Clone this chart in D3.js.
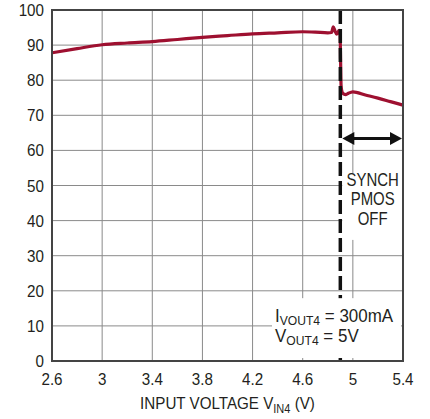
<!DOCTYPE html>
<html>
<head>
<meta charset="utf-8">
<script src="https://cdn.jsdelivr.net/npm/d3@7"></script>
<style>
  body { margin: 0; background: #fff; }
  text { font-family: "Liberation Sans", Arial, sans-serif; fill: #231f20; }
</style>
</head>
<body>
<script>
// efficiency vs input voltage
var vin = [2.6, 2.8, 3.0, 3.2, 3.4, 3.6, 3.8, 4.0, 4.2, 4.4, 4.6, 4.7, 4.8, 4.83, 4.844, 4.858, 4.871, 4.89, 4.898, 4.902, 4.906, 4.914, 4.925, 4.945, 4.965, 5.0, 5.1, 5.2, 5.3, 5.4];
var eff = [87.8, 89.0, 90.1, 90.6, 91.0, 91.6, 92.2, 92.7, 93.2, 93.5, 93.8, 93.7, 93.5, 93.6, 95.2, 94.0, 93.1, 94.2, 93.6, 86, 78.5, 76.6, 76.1, 75.9, 76.3, 76.7, 75.8, 74.9, 73.9, 72.9];
var xTicks = [2.6, 3, 3.4, 3.8, 4.2, 4.6, 5, 5.4];
var yTicks = [0, 10, 20, 30, 40, 50, 60, 70, 80, 90, 100];
var vSync = 4.9;
var noteLines = ["SYNCH", "PMOS", "OFF"];

var margin = {top: 10, right: 27, bottom: 58, left: 52},
    width = 430 - margin.left - margin.right,
    height = 419 - margin.top - margin.bottom;

var svg = d3.select("body").append("svg")
    .attr("width", 430)
    .attr("height", 419);

var g = svg.append("g")
    .attr("transform", "translate(" + margin.left + "," + margin.top + ")");

var x = d3.scaleLinear().domain([2.6, 5.4]).range([0, width]);
var y = d3.scaleLinear().domain([0, 100]).range([height, 0]);

// narrow-looking text: squeeze regular font horizontally
function label(parent, px, py, size, sx, anchor) {
  return parent.append("text")
    .attr("transform", "translate(" + px + "," + py + ") scale(" + sx + ",1)")
    .attr("font-size", size)
    .attr("text-anchor", anchor || "start");
}

// grid
g.append("g").selectAll("line")
  .data(xTicks).enter().append("line")
  .attr("x1", d => x(d)).attr("x2", d => x(d))
  .attr("y1", 0).attr("y2", height)
  .attr("stroke", "#8a8a8a").attr("stroke-width", 1);
g.append("g").selectAll("line")
  .data(yTicks).enter().append("line")
  .attr("x1", 0).attr("x2", width)
  .attr("y1", d => y(d)).attr("y2", d => y(d))
  .attr("stroke", "#8a8a8a").attr("stroke-width", 1);

// curve
var line = d3.line()
  .x((d, i) => x(vin[i]))
  .y(d => y(d))
  .curve(d3.curveMonotoneX);
g.append("path")
  .datum(eff)
  .attr("d", line)
  .attr("fill", "none")
  .attr("stroke", "#9e1030")
  .attr("stroke-width", 3.2);

// dashed sync line
g.append("line")
  .attr("x1", x(vSync)).attr("x2", x(vSync))
  .attr("y1", 0).attr("y2", height)
  .attr("stroke", "#111").attr("stroke-width", 3.5)
  .attr("stroke-dasharray", "14,5");

// "SYNCH PMOS OFF" box
g.append("rect")
  .attr("x", x(vSync) + 2).attr("y", y(53.5))
  .attr("width", x(5.4) - x(vSync) - 3).attr("height", y(34.5) - y(53.5))
  .attr("fill", "#fff");
noteLines.forEach(function(d, i) {
  label(g, (x(vSync) + x(5.4)) / 2 + 1, y(50) + i * 19.5, 18, 0.83, "middle").text(d);
});

// double arrow
var ay = y(63.4);
var ax0 = x(vSync) + 2, ax1 = x(5.4) - 1;
g.append("line")
  .attr("x1", ax0 + 8).attr("x2", ax1 - 8)
  .attr("y1", ay).attr("y2", ay)
  .attr("stroke", "#111").attr("stroke-width", 3);
g.append("path")
  .attr("d", "M" + ax0 + "," + ay + "l12,-6.5v13z M" + ax1 + "," + ay + "l-12,-6.5v13z")
  .attr("fill", "#111");

// conditions box
g.append("rect")
  .attr("x", x(4.355)).attr("y", y(17.9))
  .attr("width", x(5.384) - x(4.355)).attr("height", y(0.85) - y(17.9))
  .attr("fill", "#fff");
var cond = label(g, x(4.379), y(11.0), 17.5, 0.97);
cond.append("tspan").text("I");
cond.append("tspan").attr("font-size", 12.5).attr("dy", 3).text("VOUT4");
cond.append("tspan").attr("dy", -3).text(" = 300mA");
var cond2 = label(g, x(4.379), y(5.3), 17.5, 0.97);
cond2.append("tspan").text("V");
cond2.append("tspan").attr("font-size", 12.5).attr("dy", 3).text("OUT4");
cond2.append("tspan").attr("dy", -3).text(" = 5V");

// frame
g.append("rect")
  .attr("width", width).attr("height", height)
  .attr("fill", "none").attr("stroke", "#444").attr("stroke-width", 2);

// tick labels
yTicks.forEach(function(d) {
  label(g, -8, y(d) + 6, 16, 0.95, "end").text(d);
});
xTicks.forEach(function(d) {
  label(g, x(d), height + 24, 16, 0.95, "middle").text(d);
});

// axis title
var title = label(g, width / 2, height + 48, 16.5, 0.92, "middle");
title.append("tspan").text("INPUT VOLTAGE V");
title.append("tspan").attr("font-size", 12).attr("dy", 4).text("IN4");
title.append("tspan").attr("dy", -4).text(" (V)");
</script>
</body>
</html>
